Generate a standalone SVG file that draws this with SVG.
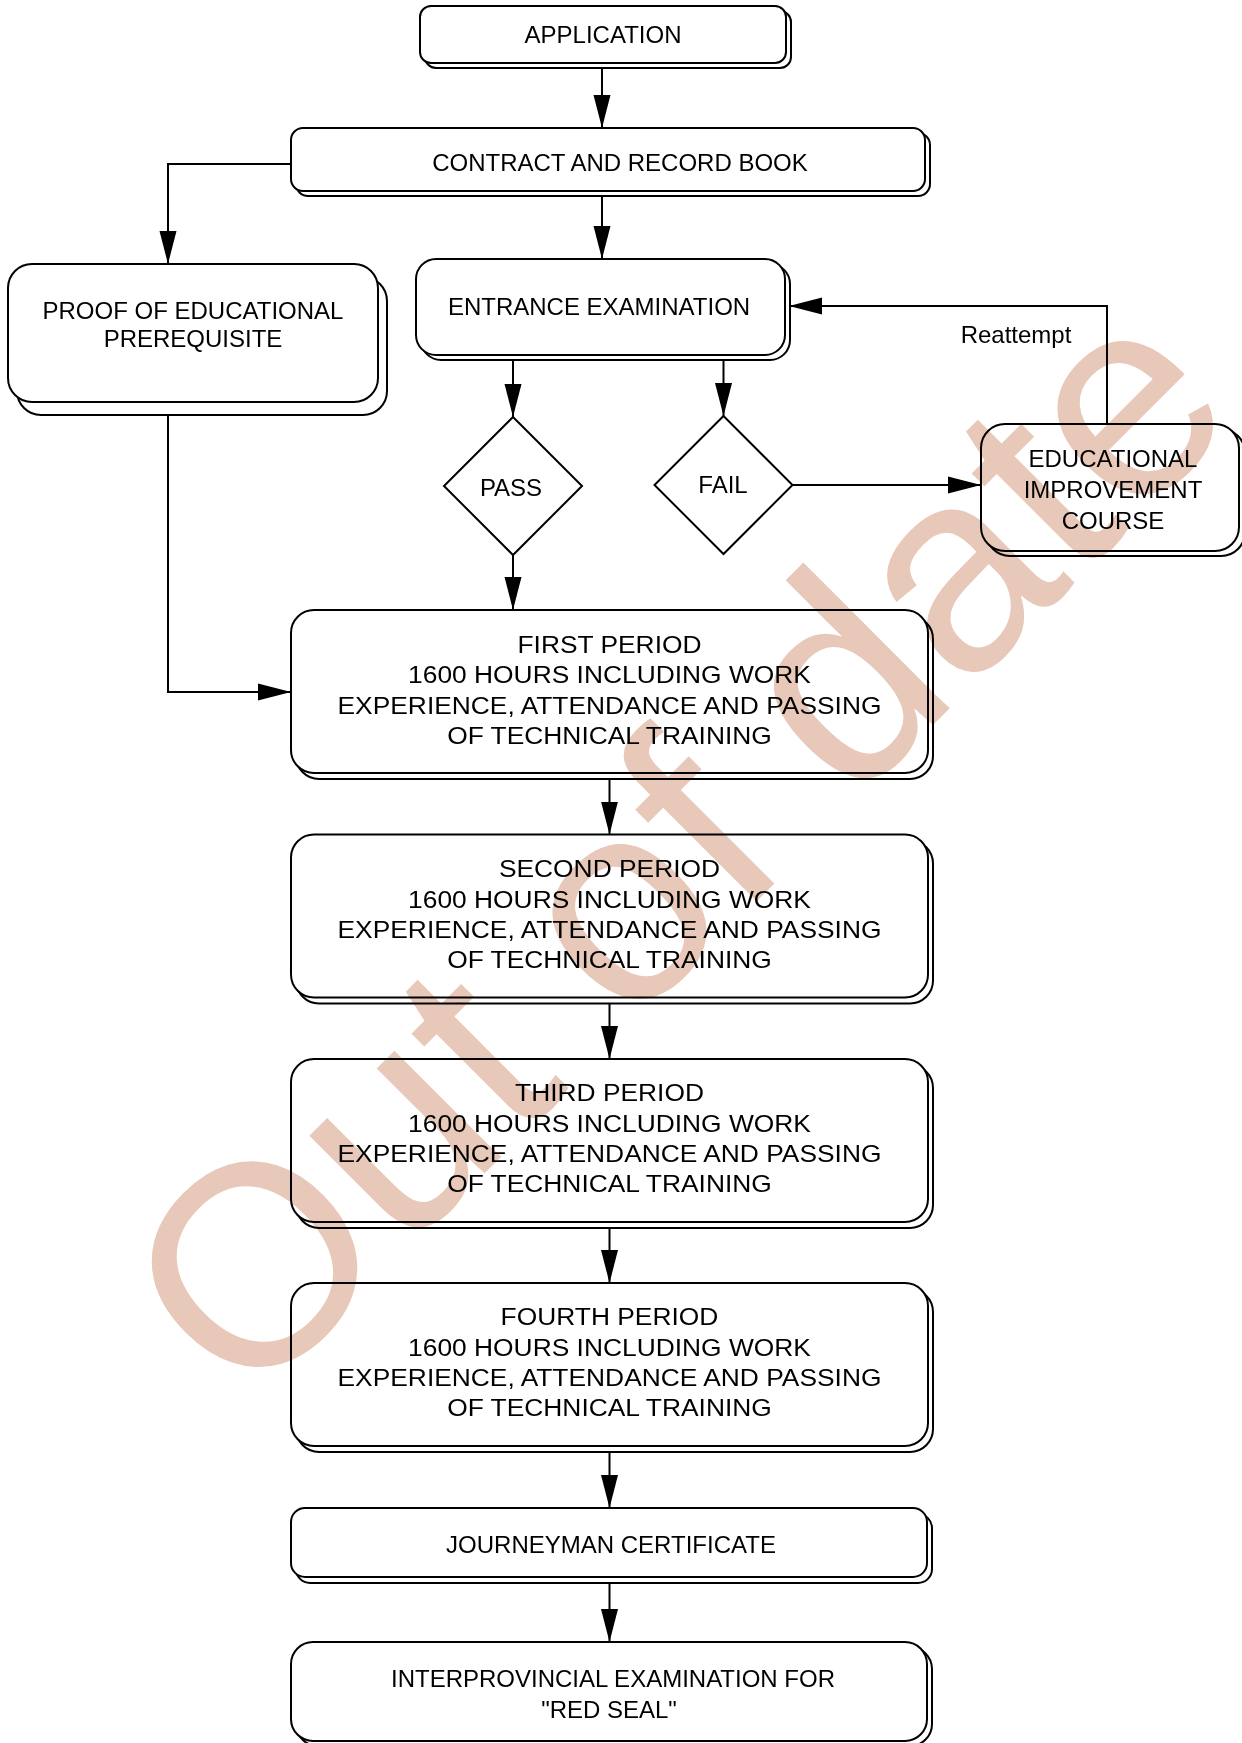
<svg xmlns="http://www.w3.org/2000/svg" width="1242" height="1743" viewBox="0 0 1242 1743">
<defs>
<style>
.box{fill:#fff;stroke:#000;stroke-width:2}
.t{font-family:"Liberation Sans",Arial,sans-serif;font-size:24px;fill:#000;text-anchor:middle}
.p{font-family:"Liberation Sans",Arial,sans-serif;font-size:24.2px;fill:#000;text-anchor:middle}
.conn{fill:none;stroke:#000;stroke-width:2}
.wm{font-family:"Liberation Sans",Arial,sans-serif;font-size:285px;fill:#e8c8b8;mix-blend-mode:multiply}
</style>
<marker id="ah" markerUnits="userSpaceOnUse" markerWidth="34" markerHeight="18" refX="33" refY="9" orient="auto" viewBox="0 0 34 18">
<path d="M0,0.5 L33,9 L0,17.5 z" fill="#000"/>
</marker>
</defs>
<rect width="1242" height="1743" fill="#fff"/>

<g id="connectors" class="conn" marker-end="url(#ah)">
<path d="M602,68 V128"/>
<path d="M602,196 V259"/>
<path d="M291,164 H168 V264"/>
<path d="M168,416 V692 H291"/>
<path d="M513,360 V417"/>
<path d="M723.5,360 V416"/>
<path d="M792.5,485 H981"/>
<path d="M1107,424 V306 H789"/>
<path d="M513,555 V610"/>
<path d="M609.5,779 V834.5"/>
<path d="M609.5,1003.5 V1059"/>
<path d="M609.5,1228 V1283"/>
<path d="M609.5,1452 V1508"/>
<path d="M609.5,1583 V1642"/>
</g>

<g id="application">
<rect class="box" x="425" y="11" width="366" height="57" rx="11"/>
<rect class="box" x="420" y="6" width="366" height="57" rx="11"/>
<text class="t" x="603" y="43">APPLICATION</text>
</g>

<g id="contract">
<rect class="box" x="296" y="133" width="634" height="63" rx="12"/>
<rect class="box" x="291" y="128" width="634" height="63" rx="12"/>
<text class="t" x="620" y="171">CONTRACT AND RECORD BOOK</text>
</g>

<g id="proof">
<rect class="box" x="17" y="277" width="370" height="138" rx="24"/>
<rect class="box" x="8" y="264" width="370" height="138" rx="24"/>
<text class="t" x="193" y="319">PROOF OF EDUCATIONAL</text>
<text class="t" x="193" y="347">PREREQUISITE</text>
</g>

<g id="entrance">
<rect class="box" x="421" y="264" width="369" height="96" rx="20"/>
<rect class="box" x="416" y="259" width="369" height="96" rx="20"/>
<text class="t" x="599" y="315">ENTRANCE EXAMINATION</text>
</g>

<g id="pass">
<polygon class="box" points="513,417 582,486 513,555 444,486"/>
<text class="t" x="511" y="496">PASS</text>
</g>

<g id="fail">
<polygon class="box" points="723.5,416 792.5,485 723.5,554 654.5,485"/>
<text class="t" x="723" y="493">FAIL</text>
</g>

<g id="educational">
<rect class="box" x="986" y="429" width="259" height="127" rx="24"/>
<rect class="box" x="981" y="424" width="258" height="127" rx="24"/>
<text class="t" x="1113" y="467">EDUCATIONAL</text>
<text class="t" x="1113" y="498">IMPROVEMENT</text>
<text class="t" x="1113" y="529">COURSE</text>
</g>

<text id="reattempt-label" class="t" x="1016" y="343">Reattempt</text>

<g id="first">
<rect class="box" x="296" y="616" width="637" height="163" rx="23"/>
<rect class="box" x="291" y="610" width="637" height="163" rx="23"/>
<g transform="translate(609.5,0) scale(1.09,1) translate(-609.5,0)">
<text class="p" x="609.5" y="653">FIRST PERIOD</text>
<text class="p" x="609.5" y="683.3">1600 HOURS INCLUDING WORK</text>
<text class="p" x="609.5" y="713.6">EXPERIENCE, ATTENDANCE AND PASSING</text>
<text class="p" x="609.5" y="743.9">OF TECHNICAL TRAINING</text>
</g>
</g>

<g id="second">
<rect class="box" x="296" y="840.5" width="637" height="163" rx="23"/>
<rect class="box" x="291" y="834.5" width="637" height="163" rx="23"/>
<g transform="translate(609.5,0) scale(1.09,1) translate(-609.5,0)">
<text class="p" x="609.5" y="877.5">SECOND PERIOD</text>
<text class="p" x="609.5" y="907.8">1600 HOURS INCLUDING WORK</text>
<text class="p" x="609.5" y="938.1">EXPERIENCE, ATTENDANCE AND PASSING</text>
<text class="p" x="609.5" y="968.4">OF TECHNICAL TRAINING</text>
</g>
</g>

<g id="third">
<rect class="box" x="296" y="1065" width="637" height="163" rx="23"/>
<rect class="box" x="291" y="1059" width="637" height="163" rx="23"/>
<g transform="translate(609.5,0) scale(1.09,1) translate(-609.5,0)">
<text class="p" x="609.5" y="1101.5">THIRD PERIOD</text>
<text class="p" x="609.5" y="1131.8">1600 HOURS INCLUDING WORK</text>
<text class="p" x="609.5" y="1162.1">EXPERIENCE, ATTENDANCE AND PASSING</text>
<text class="p" x="609.5" y="1192.4">OF TECHNICAL TRAINING</text>
</g>
</g>

<g id="fourth">
<rect class="box" x="296" y="1289" width="637" height="163" rx="23"/>
<rect class="box" x="291" y="1283" width="637" height="163" rx="23"/>
<g transform="translate(609.5,0) scale(1.09,1) translate(-609.5,0)">
<text class="p" x="609.5" y="1325.5">FOURTH PERIOD</text>
<text class="p" x="609.5" y="1355.8">1600 HOURS INCLUDING WORK</text>
<text class="p" x="609.5" y="1386.1">EXPERIENCE, ATTENDANCE AND PASSING</text>
<text class="p" x="609.5" y="1416.4">OF TECHNICAL TRAINING</text>
</g>
</g>

<g id="journeyman">
<rect class="box" x="296" y="1514" width="636" height="69" rx="14"/>
<rect class="box" x="291" y="1508" width="636" height="69" rx="14"/>
<text class="t" x="611" y="1553">JOURNEYMAN CERTIFICATE</text>
</g>

<g id="interprovincial">
<rect class="box" x="296" y="1647" width="636" height="99" rx="22"/>
<rect class="box" x="291" y="1642" width="636" height="99" rx="22"/>
<text class="t" x="613" y="1687">INTERPROVINCIAL EXAMINATION FOR</text>
<text class="t" x="609" y="1718">"RED SEAL"</text>
</g>

<g id="watermark">
<text class="wm" x="246" y="1412" transform="rotate(-45 246 1412)">Out of date</text>
</g>
</svg>
